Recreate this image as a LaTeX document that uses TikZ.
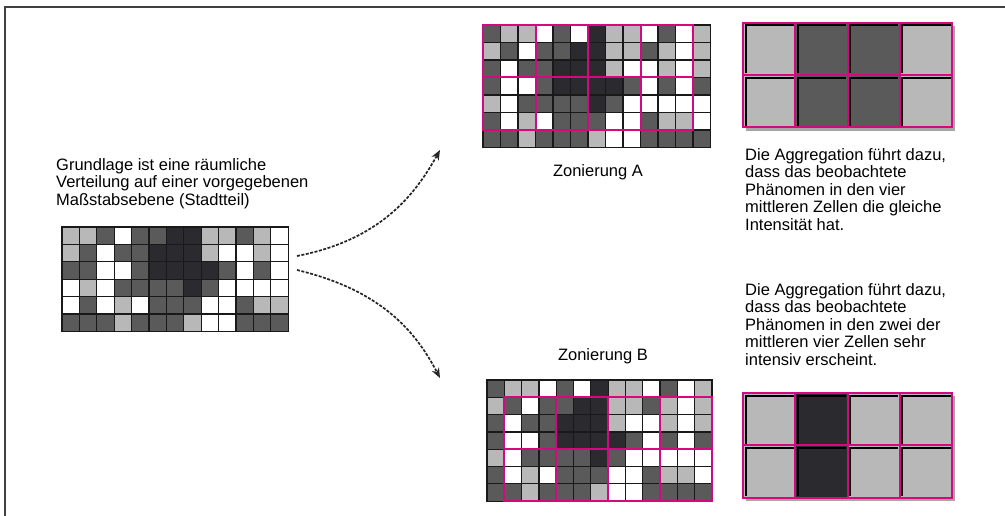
\documentclass[tikz,border=0pt]{standalone}
\usepackage{fontspec}
\setmainfont{Liberation Sans}
\usetikzlibrary{arrows.meta}
\definecolor{gW}{HTML}{FFFFFF}
\definecolor{gL}{HTML}{B8B8B8}
\definecolor{gM}{HTML}{5A5A5A}
\definecolor{gD}{HTML}{2B2A2F}
\definecolor{zone}{HTML}{D4087F}
\tikzset{
  txt/.style={align=left, inner sep=0pt, font=\fontsize{16.5}{17.5}\selectfont},
  cell/.style={draw=black!90, line width=1.2pt},
  zoneline/.style={draw=zone, line width=2pt},
  flow/.style={dash pattern=on 3pt off 1.5pt, line width=1.7pt, black!85,
    -{Stealth[length=10pt,width=8pt]}},
  area/.style={inner sep=0pt, anchor=north west}
}
\newcommand{\basedata}{{L,L,M,W,M,M,D,D,L,L,M,L,W},
  {L,M,W,M,M,D,D,D,L,W,W,L,W},
  {M,M,W,W,M,D,D,D,D,M,W,M,W},
  {W,L,W,M,M,M,M,D,M,W,W,W,W},
  {W,M,W,L,W,M,M,M,W,W,M,L,L},
  {M,M,M,L,M,M,M,L,W,W,M,M,M}}
\newcommand{\zonedata}{{M,L,L,W,M,W,D,L,L,W,M,W,L},
  {L,M,W,M,M,D,D,L,L,M,L,W,L},
  {M,W,M,M,D,D,D,L,W,W,L,W,L},
  {M,W,W,M,D,D,D,D,M,W,M,W,M},
  {L,W,M,M,M,M,D,M,W,W,W,W,W},
  {M,W,L,W,M,M,M,W,W,M,L,L,W},
  {M,M,L,M,M,M,L,W,W,M,M,M,M}}
% x0, y0, cell size, rows
\newcommand{\mosaic}[4]{%
  \foreach \row [count=\j from 0] in #4{
    \foreach \v [count=\i from 0] in \row
      \filldraw[cell, fill=g\v] ({#1+\i*#3},{#2+\j*#3}) rectangle +(#3,#3);
  }}
% x0, y0, zone size
\newcommand{\zones}[3]{%
  \foreach \i in {0,...,3}
    \foreach \j in {0,1}
      \draw[zoneline] ({#1+\i*#3},{#2+\j*#3}) rectangle +(#3,#3);
}
% x0, y0, width, height, colours of the top row
\newcommand{\aggregate}[5]{%
  \fill[black!35] (#1+3,#2+3) rectangle +(4*#3,2*#4);
  \foreach \v [count=\i from 0] in {#5}
    \foreach \j in {0,1}{
      \fill[g\v] ({#1+\i*#3},{#2+\j*#4}) rectangle +(#3,#4);
      \draw[black, line width=2pt] ({#1+\i*#3+2.5},{#2+\j*#4+#4-2}) |- +(#3-4,4.5-#4);
    }
  \zones{#1}{#2}{#3}
}
\begin{document}
\begin{tikzpicture}[x=1pt, y=-1pt]
  \useasboundingbox (0,0) rectangle (1005,516);
  \draw[black!75, line width=1.2pt] (5,516) -- (5,7) -- (1005,7);

  \mosaic{62}{227}{17.4}{\basedata}
  \node[area, minimum width=226pt, minimum height=104pt] (base) at (62,227) {};

  \mosaic{483}{25}{17.5}{\zonedata}
  \zones{483}{25}{52.5}
  \node[area, minimum width=227pt, minimum height=122pt] (gridA) at (483,25) {};

  \mosaic{487}{380}{17.3}{\zonedata}
  \zones{504.3}{397.3}{51.9}
  \node[area, minimum width=225pt, minimum height=121pt] (gridB) at (487,380) {};

  \aggregate{743}{23}{52.25}{52.5}{L,M,M,L}
  \aggregate{743}{393}{52.25}{52.5}{L,D,L,L}

  \node[txt, anchor=north west] (basetext) at (56,158)
    {Grundlage ist eine räumliche\\Verteilung auf einer vorgegebenen\\Maßstabsebene (Stadtteil)};
  \node[txt] (labA) at (598,172) {Zonierung A};
  \node[txt] (labB) at (603,356) {Zonierung B};
  \node[txt, anchor=north west] (noteA) at (745,148)
    {Die Aggregation führt dazu,\\dass das beobachtete\\Phänomen in den vier\\mittleren Zellen die gleiche\\Intensität hat.};
  \node[txt, anchor=north west] (noteB) at (745,283)
    {Die Aggregation führt dazu,\\dass das beobachtete\\Phänomen in den zwei der\\mittleren vier Zellen sehr\\intensiv erscheint.};

  \coordinate (outA) at (297,256);
  \coordinate (inA) at (440,150);
  \coordinate (outB) at (297,270);
  \coordinate (inB) at (440,378);
  \draw[flow] (outA) .. controls (380,240) and (415,195) .. (inA);
  \draw[flow] (outB) .. controls (380,290) and (415,330) .. (inB);
\end{tikzpicture}
\end{document}
